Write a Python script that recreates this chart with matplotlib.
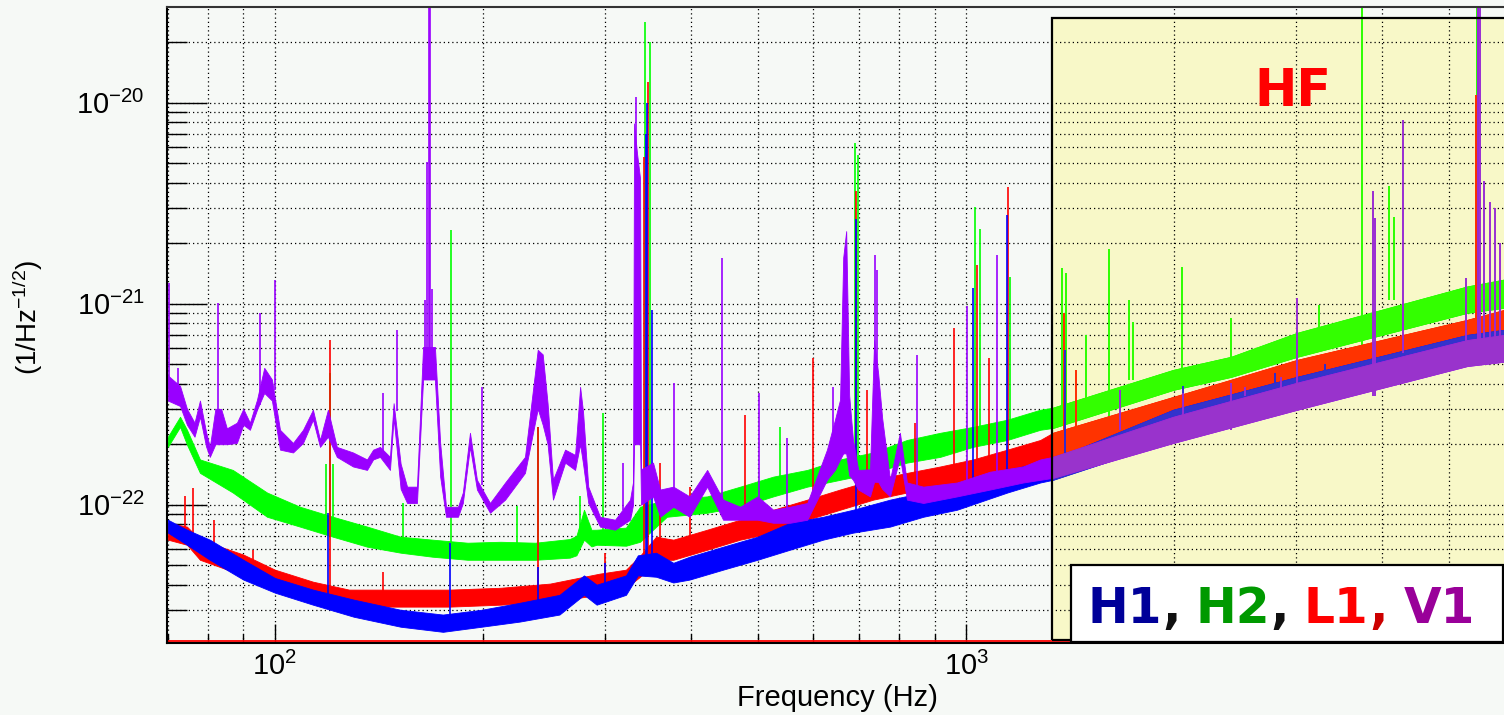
import numpy as np
import matplotlib
matplotlib.use("Agg")
import matplotlib.pyplot as plt
from matplotlib.patches import Rectangle
from matplotlib.ticker import FixedLocator, NullFormatter

# ---------------- data (amplitude spectral density, units of 1e-22 / sqrt(Hz)) ----------------
UNIT = 1e-22

# H1 noise band (lower / upper envelope) and lines
h1_freq = [70, 74.6, 80.5, 90, 100, 113.5, 130, 152, 175, 199, 226, 258, 280, 292, 322, 335, 356,
           377, 398, 445, 499, 556, 621, 686, 776, 867, 970, 1147, 1280, 1335, 1994, 3013, 5309, 6000]
h1_hi = [0.842, 0.751, 0.670, 0.532, 0.432, 0.378, 0.337, 0.300, 0.284, 0.300, 0.325, 0.356, 0.445,
         0.400, 0.445, 0.560, 0.577, 0.514, 0.551, 0.618, 0.693, 0.813, 0.871, 0.944, 1.06, 1.15,
         1.23, 1.49, 1.62, 1.68, 2.97, 4.33, 7.0, 7.42]
h1_lo = [0.726, 0.632, 0.532, 0.424, 0.365, 0.318, 0.277, 0.247, 0.233, 0.247, 0.262, 0.284, 0.356,
         0.318, 0.356, 0.445, 0.438, 0.410, 0.424, 0.475, 0.532, 0.597, 0.670, 0.726, 0.778, 0.871,
         0.944, 1.15, 1.29, 1.33, 2.10, 3.10, 5.2, 5.38]
h1_line_freq = [119.3, 179, 240, 300, 344, 345.5, 351, 693, 1023, 1147, 1390, 2060, 2800, 3300, 5500]
h1_line_top = [0.91, 0.647, 0.49, 0.514, 70, 100, 9.3, 26.5, 12.0, 27.7, 5.9, 3.9, 4.5, 5.0, 300]

# H2
h2_freq = [70, 72.9, 74.6, 77.9, 86.9, 97.4, 108.7, 121.3, 136, 152, 169, 190, 212, 238, 267, 273,
           280, 287, 292, 322, 337.5, 369, 422, 471, 526, 589, 657, 734, 821, 917, 1023, 1147, 1280,
           1335, 1994, 2418, 3013, 5309, 6000]
h2_hi = [2.18, 2.74, 2.36, 1.68, 1.49, 1.15, 0.977, 0.871, 0.778, 0.693, 0.670, 0.647, 0.654, 0.647,
         0.675, 0.70, 0.944, 0.75, 0.751, 0.769, 0.977, 1.06, 1.10, 1.23, 1.38, 1.49, 1.68, 1.82,
         2.10, 2.28, 2.44, 2.65, 2.97, 3.04, 4.69, 5.45, 7.17, 12.2, 13.2]
h2_lo = [1.94, 2.44, 1.99, 1.44, 1.15, 0.871, 0.778, 0.693, 0.618, 0.577, 0.551, 0.532, 0.532, 0.532,
         0.545, 0.56, 0.670, 0.62, 0.632, 0.625, 0.654, 0.871, 0.912, 0.977, 1.10, 1.23, 1.33, 1.44,
         1.62, 1.73, 1.94, 2.10, 2.36, 2.41, 3.73, 4.33, 5.45, 9.02, 9.55]
h2_line_freq = [118.5, 120.1, 121.5, 153, 179.8, 224, 240, 276, 298, 343, 349, 538, 690, 697, 1030,
                1048, 1158, 1377, 1395, 1492, 1610, 1721, 1744, 2054, 2418, 3243, 3742, 4096, 4164,
                5490]
h2_line_top = [1.6, 4.5, 1.6, 1.02, 23.4, 0.98, 2.44, 1.1, 2.87, 253, 201, 2.44, 63, 55, 30.3,
               23.6, 13.6, 15.1, 14.3, 7.0, 18.8, 10.5, 8.1, 15.3, 8.5, 9.9, 300, 38.7, 27.1, 300]

# L1
l1_freq = [70, 74.6, 77.9, 90, 100, 113.5, 128, 152, 179, 212, 250, 295, 322, 337.5, 356, 377, 422,
           471, 526, 589, 657, 734, 821, 917, 1023, 1147, 1280, 1335, 1994, 2418, 3013, 5309, 6000]
l1_hi = [0.813, 0.778, 0.670, 0.565, 0.475, 0.414, 0.378, 0.378, 0.378, 0.386, 0.405, 0.454, 0.475,
         0.557, 0.693, 0.670, 0.751, 0.842, 0.944, 1.06, 1.19, 1.33, 1.44, 1.55, 1.68, 1.88, 2.10,
         2.28, 3.44, 4.19, 5.26, 8.32, 9.32]
l1_lo = [0.670, 0.632, 0.532, 0.445, 0.378, 0.337, 0.311, 0.311, 0.311, 0.318, 0.329, 0.356, 0.386,
         0.438, 0.532, 0.532, 0.597, 0.670, 0.726, 0.842, 0.944, 1.06, 1.15, 1.23, 1.33, 1.49, 1.62,
         1.73, 2.65, 3.21, 4.05, 6.62, 7.0]
l1_line_freq = [74, 76.1, 81.5, 93, 120.1, 143.3, 240, 300, 342, 346.6, 361, 398, 479, 601, 693,
                719, 844, 961, 1037, 1080, 1151, 1330, 1386, 1440, 5471]
l1_line_top = [1.10, 1.21, 0.84, 0.597, 6.6, 0.464, 2.44, 0.577, 54, 127, 1.62, 1.23, 2.80, 5.38,
               36.5, 3.73, 2.56, 7.6, 15.6, 5.38, 38.2, 4.1, 9.02, 4.7, 110]

# V1
v1_freq = [70, 72.9, 74.6, 76.5, 77.9, 79.5, 80.5, 82.0,
           83.6, 85.2, 88.1, 90.0, 92.0, 94.2, 96.5, 99.0,
           101.7, 106.2, 109.8, 113.5, 116.2, 119.3, 122.9, 129.7,
           135.9, 138.7, 141.9, 146.7, 148.5, 152.0, 155.3, 160.5,
           163.8, 170.4, 173.4, 176.8, 184.0, 187.0, 191.5, 196.0,
           204.7, 215.3, 230.0, 240.0, 244.0, 248.0, 252.5, 262.9,
           271.8, 276.4, 279.1, 284.0, 295.3, 310.5, 326.4, 329.7,
           330.8, 334.1, 337.5, 338.6, 352.4, 360.8, 377.0, 398.0,
           422.0, 445.0, 471.0, 499.0, 526.0, 556.0, 589.0, 629.0,
           646.0, 657.0, 664.0, 670.6, 677.3, 686.0, 698.0, 726.0,
           736.0, 746.0, 756.0, 776.0, 802.0, 821.0, 867.0, 970.0,
           1083, 1209, 1280, 1335, 1994, 3013, 5309, 6000]
v1_hi = [4.4, 3.9, 3.0, 2.56, 3.3, 2.3, 1.94, 3.0,
         3.0, 2.4, 2.56, 3.0, 2.56, 3.33, 4.8, 4.2,
         2.36, 2.03, 2.36, 2.97, 2.10, 2.97, 1.94, 1.82,
         1.68, 1.88, 1.94, 1.73, 3.2, 1.6, 1.23, 1.23,
         6.1, 6.1, 2.03, 0.977, 0.977, 1.15, 2.28, 1.33,
         1.02, 1.29, 1.73, 5.9, 5.6, 3.2, 1.33, 1.88,
         1.77, 3.86, 2.9, 1.23, 0.871, 0.842, 1.06, 1.3,
         79, 56, 42, 1.5, 1.62, 1.19, 1.23, 1.10,
         1.49, 1.06, 0.977, 1.10, 0.944, 0.977, 1.02, 1.88,
         2.65, 3.33, 17, 23, 3.5, 2.10, 1.49, 1.5,
         6.6, 4.5, 2.7, 1.33, 2.28, 1.29, 1.23, 1.29,
         1.46, 1.55, 1.68, 1.73, 2.74, 4.05, 6.6, 7.0]
v1_lo = [3.3, 3.1, 2.5, 2.18, 2.74, 1.95, 1.73, 2.0,
         2.0, 2.0, 2.03, 2.5, 2.36, 2.97, 3.6, 3.3,
         1.88, 1.82, 2.03, 2.65, 1.94, 2.18, 1.73, 1.55,
         1.49, 1.68, 1.73, 1.49, 2.7, 1.2, 1.02, 1.02,
         4.2, 4.2, 1.38, 0.871, 0.871, 1.02, 1.94, 1.19,
         0.912, 1.06, 1.44, 3.0, 2.5, 2.0, 1.06, 1.62,
         1.49, 2.0, 1.6, 1.02, 0.778, 0.751, 0.842, 1.0,
         2.0, 2.0, 2.0, 1.0, 1.10, 0.871, 0.977, 0.871,
         1.23, 0.842, 0.842, 0.842, 0.813, 0.813, 0.842, 1.33,
         1.49, 1.68, 1.8, 1.8, 1.4, 1.33, 1.19, 1.1,
         1.3, 1.3, 1.2, 1.10, 1.73, 1.06, 1.02, 1.10,
         1.19, 1.29, 1.33, 1.36, 2.03, 2.97, 4.9, 5.15]
v1_line_freq = [70.2, 72.5, 82.7, 95.1, 100, 143.3, 150.2, 164.9, 166.0, 166.8, 167.6, 168.8, 199.3,
                319, 333, 378, 443.6, 501.7, 550.8, 642, 738.4, 743, 849, 1003, 1109, 1330, 1671,
                2060, 2418, 2534, 2857, 3013, 3881, 3900, 4291, 5290, 5508, 5540, 5618, 5730, 5826,
                5927]
v1_line_top = [12.7, 4.8, 10.1, 9.02, 13.2, 3.61, 7.42, 10.5, 50.8, 300, 300, 11.8, 3.86, 1.62, 107,
               4.05, 16.9, 3.61, 2.15, 3.86, 17.5, 14.8, 5.57, 9.7, 17.5, 4.7, 3.73, 3.6, 4.05, 3.86,
               4.33, 10.7, 36.5, 26.8, 82, 13.5, 300, 300, 41, 32, 30, 20]

# axis ticks
x_major = [100, 1000]
x_minor = [70, 80, 90, 200, 300, 400, 500, 600, 700, 800, 900, 2000, 3000, 4000, 5000]
y_major = [1e-22, 1e-21, 1e-20]
y_minor = [3e-23, 4e-23, 5e-23, 6e-23, 7e-23, 8e-23, 9e-23,
           2e-22, 3e-22, 4e-22, 5e-22, 6e-22, 7e-22, 8e-22, 9e-22,
           2e-21, 3e-21, 4e-21, 5e-21, 6e-21, 7e-21, 8e-21, 9e-21, 2e-20]

legend_labels = ["H1", ",", "H2", ",", "L1", ",", "V1"]
legend_colors = ["#000099", "#111111", "#009900", "#111111", "#ff0000", "#cc0000", "#990099"]
legend_xpix = [1088, 1162, 1196, 1270, 1304, 1369, 1404]

HF_START = 1332.0   # Hz, left edge of the HF band box

# ---------------- style ----------------
plt.rcParams['font.family'] = ['Liberation Sans', 'DejaVu Sans']
plt.rcParams['mathtext.fontset'] = 'custom'
plt.rcParams['mathtext.rm'] = 'Liberation Sans'
plt.rcParams['mathtext.it'] = 'Liberation Sans:italic'
plt.rcParams['mathtext.bf'] = 'Liberation Sans:bold'
plt.rcParams['axes.unicode_minus'] = False

BG = '#f6f9f6'
W, H = 1504, 715
fig = plt.figure(figsize=(W / 100, H / 100), dpi=100, facecolor=BG)
ax = fig.add_axes([167 / W, 1 - 643 / H, 1 - 167 / W, 636 / H])
ax.set_facecolor(BG)
ax.set_xscale('log')
ax.set_yscale('log')
ax.set_xlim(69.8, 6000)
ax.set_ylim(2.05e-23, 3.0e-20)

# HF region (yellow box)
hf_fill = Rectangle((HF_START, 0.213 * UNIT), 1e5, 265 * UNIT - 0.213 * UNIT,
                    facecolor='#f8f8c8', edgecolor='none', zorder=0.2)
ax.add_patch(hf_fill)
hf_clip = Rectangle((HF_START, 1e-26), 1e6, 1e-17, transform=ax.transData)

# ticks and grid
ax.xaxis.set_major_locator(FixedLocator(x_major))
ax.xaxis.set_minor_locator(FixedLocator(x_minor))
ax.yaxis.set_major_locator(FixedLocator(y_major))
ax.yaxis.set_minor_locator(FixedLocator(y_minor))
ax.set_xticklabels([r'$10^{2}$', r'$10^{3}$'])
ax.set_yticklabels([r'$10^{-22}$', r'$10^{-21}$', r'$10^{-20}$'])
ax.xaxis.set_minor_formatter(NullFormatter())
ax.yaxis.set_minor_formatter(NullFormatter())

ax.set_axisbelow(True)
ax.grid(True, which='both', color='#000000', linestyle=(0, (1, 2.4)), linewidth=0.9)

detectors = [
    (h2_freq, h2_lo, h2_hi, h2_line_freq, h2_line_top, '#00ff00', '#33ff00', 2.0),
    (l1_freq, l1_lo, l1_hi, l1_line_freq, l1_line_top, '#ff0000', '#ff3300', 2.1),
    (h1_freq, h1_lo, h1_hi, h1_line_freq, h1_line_top, '#0000ff', '#3333cc', 2.2),
    (v1_freq, v1_lo, v1_hi, v1_line_freq, v1_line_top, '#9900ff', '#9933cc', 2.3),
]

for f, lo, hi, lf, lt, col, col_hf, z in detectors:
    f = np.asarray(f, float)
    lo = np.asarray(lo, float) * UNIT
    hi = np.asarray(hi, float) * UNIT
    lf = np.asarray(lf, float)
    lt = np.asarray(lt, float) * UNIT
    # foot of each line: centre of the noise band at the nearest read point
    nearest = np.abs(np.log10(f)[None, :] - np.log10(lf)[:, None]).argmin(axis=1)
    foot = np.sqrt(lo[nearest] * hi[nearest])
    foot = np.minimum(foot, lt)
    for c, clip in ((col, None), (col_hf, hf_clip)):
        band = ax.fill_between(f, lo, hi, facecolor=c, edgecolor=c, linewidth=0.6, zorder=z)
        lines = ax.vlines(lf, foot, lt, colors=c, linewidth=1.2, zorder=z)
        if clip is not None:
            band.set_clip_path(clip)
            lines.set_clip_path(clip)

# HF box outline
ax.add_patch(Rectangle((HF_START, 0.213 * UNIT), 1e5, 265 * UNIT - 0.213 * UNIT,
                       facecolor='none', edgecolor='black', linewidth=1.6, zorder=5))

# red trace lying on the bottom of the frame
ax.axhline(2.09e-23, color='#ff0000', linewidth=1.3, zorder=2.5)

ax.tick_params(axis='y', which='major', direction='in', length=28.8, width=1.0, labelsize=21, pad=16)
ax.tick_params(axis='y', which='minor', direction='in', length=14.4, width=1.0)
ax.tick_params(axis='x', which='major', direction='in', length=13.7, width=1.0, labelsize=21, pad=6)
ax.tick_params(axis='x', which='minor', direction='in', length=6.5, width=1.0)
ax.tick_params(top=False, right=False, which='both')

for s in ('left', 'bottom'):
    ax.spines[s].set_linewidth(1.5)
    ax.spines[s].set_color('black')
ax.spines['top'].set_linewidth(1.5)
ax.spines['top'].set_color('#333333')
ax.spines['right'].set_visible(False)

# axis titles
fig.text(837 / W, 1 - 706 / H, 'Frequency (Hz)', fontsize=21, ha='center', va='baseline')
fig.text(28 / W, 1 - 317 / H, r'(1/Hz$^{-1/2}$)', fontsize=20, rotation=90,
         ha='center', va='center')

# HF label
fig.text(1293 / W, 1 - 106 / H, 'HF', fontsize=36.5, fontweight='bold', family='DejaVu Sans',
         color='#ff0000', ha='center', va='baseline', zorder=8)

# legend box
fig.patches.append(Rectangle((1071 / W, 1 - 642 / H), 432 / W, 77 / H, transform=fig.transFigure,
                             facecolor='white', edgecolor='black', linewidth=1.6, zorder=9))
for s, c, xp in zip(legend_labels, legend_colors, legend_xpix):
    fig.text(xp / W, 1 - 623 / H, s, fontsize=35, fontweight='bold', family='DejaVu Sans',
             color=c, ha='left', va='baseline', zorder=10)

fig.savefig('out.png', dpi=100, facecolor=BG)
